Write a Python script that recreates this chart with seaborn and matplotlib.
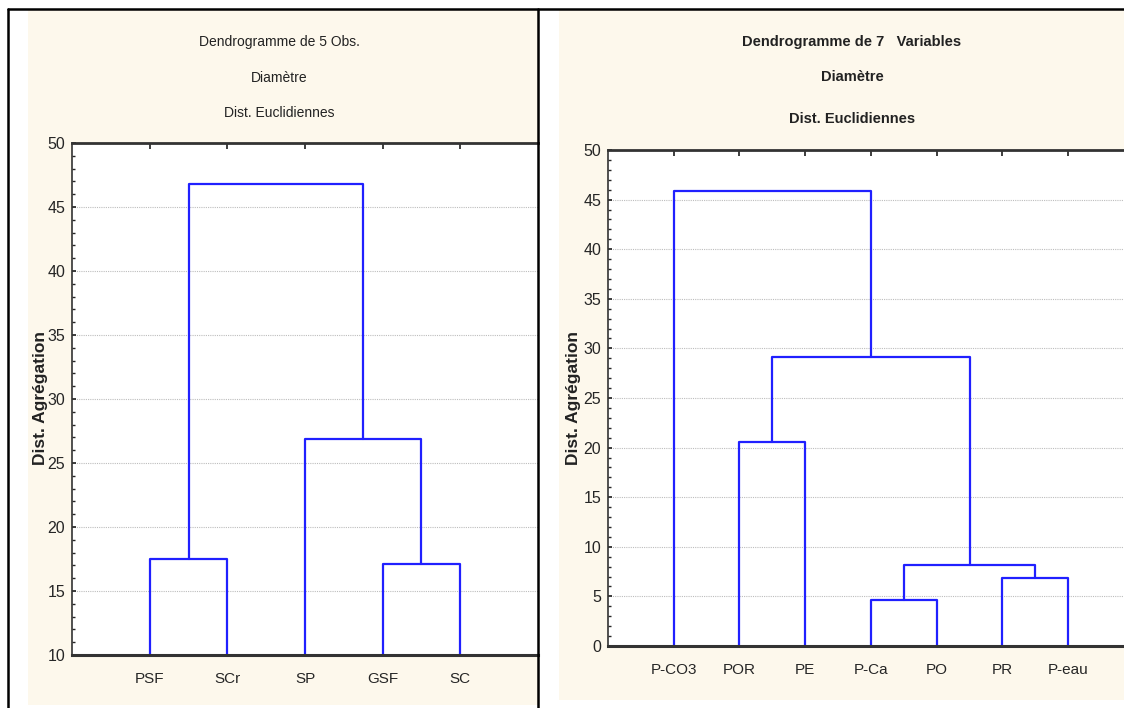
import seaborn as sns
import pandas as pd
import matplotlib.pyplot as plt
from matplotlib.patches import Rectangle
from matplotlib.lines import Line2D
from matplotlib.ticker import MultipleLocator

# données des deux dendrogrammes
obs_labels = ['PSF', 'SCr', 'SP', 'GSF', 'SC']
# (gauche, droite, hauteur) - indices >= n désignent les groupes déjà formés
obs_merges = [(3, 4, 17.1), (0, 1, 17.5), (2, 5, 26.9), (6, 7, 46.8)]

var_labels = ['P-CO3', 'POR', 'PE', 'P-Ca', 'PO', 'PR', 'P-eau']
var_merges = [(3, 4, 4.6), (5, 6, 6.9), (7, 8, 8.2), (1, 2, 20.6),
              (10, 9, 29.1), (0, 11, 45.9)]

sns.set_theme(style='white')
plt.rcParams['font.family'] = ['Liberation Sans Narrow', 'Liberation Sans', 'DejaVu Sans']

CREAM = '#fdf8ec'
BLUE = '#2020ff'


def segments(labels, merges, base):
    # position x de chaque feuille puis de chaque groupe
    pos = {i: i + 1 for i in range(len(labels))}
    hgt = {i: base for i in range(len(labels))}
    rows = []
    n = len(labels)
    for k, (a, b, h) in enumerate(merges):
        xa, xb = pos[a], pos[b]
        pts = [(xa, hgt[a]), (xa, h), (xb, h), (xb, hgt[b])]
        for x, y in pts:
            rows.append({'x': x, 'y': y, 'seg': k})
        pos[n + k] = (xa + xb) / 2
        hgt[n + k] = h
    return pd.DataFrame(rows)


fig = plt.figure(figsize=(11.24, 7.08), dpi=100)
W, H = 1124, 708

# fonds crème des deux panneaux
fig.patches.append(Rectangle((28 / W, 3 / H), 510 / W, 696 / H, transform=fig.transFigure,
                             facecolor=CREAM, edgecolor='none', zorder=-10))
fig.patches.append(Rectangle((559 / W, 8 / H), 565 / W, 691 / H, transform=fig.transFigure,
                             facecolor=CREAM, edgecolor='none', zorder=-10))


def draw(ax, labels, merges, ylim, xmax, titles, title_x, title_ys, ylab_x, bold_title):
    df = segments(labels, merges, ylim[0])
    sns.lineplot(data=df, x='x', y='y', units='seg', estimator=None, sort=False,
                 color=BLUE, lw=1.6, ax=ax, legend=False)
    ax.set_xlim(0, xmax)
    ax.set_ylim(*ylim)
    ax.set_xticks(range(1, len(labels) + 1))
    ax.set_xticklabels(labels, fontsize=11)
    ax.yaxis.set_major_locator(MultipleLocator(5))
    ax.yaxis.set_minor_locator(MultipleLocator(1))
    ax.tick_params(axis='y', which='major', labelsize=11.5, length=3, direction='in', left=True, pad=5)
    ax.tick_params(axis='y', which='minor', length=2, direction='in', left=True)
    ax.tick_params(axis='x', length=4, direction='in', bottom=True, top=True, pad=12)
    ax.grid(axis='y', which='major', color='#bdbdbd', linestyle=(0, (1, 1)), lw=0.8)
    for s in ['left', 'top', 'bottom']:
        ax.spines[s].set_color('#333333')
    ax.spines['left'].set_linewidth(1.2)
    ax.spines['top'].set_linewidth(2)
    ax.spines['bottom'].set_linewidth(2.2)
    ax.spines['right'].set_visible(False)
    ax.set_xlabel('')
    ax.set_ylabel('')
    ax.set_facecolor('white')
    fig.text(ylab_x / W, 1 - 398 / H, 'Dist. Agrégation', rotation=90, ha='center', va='center',
             fontsize=12.5, fontweight='bold', family=['Liberation Sans', 'DejaVu Sans'],
             color='#222222')
    for t, y in zip(titles, title_ys):
        fig.text(title_x / W, 1 - y / H, t, ha='center', va='center', fontsize=10.5 if bold_title else 10,
                 color='#222222', fontweight='bold' if bold_title else 'normal')


ax1 = fig.add_axes([72 / W, 1 - 655 / H, 466 / W, 512 / H])
draw(ax1, obs_labels, obs_merges, (10, 50), 6.0,
     ['Dendrogramme de 5 Obs.', 'Diamètre', 'Dist. Euclidiennes'], 279, [42, 78, 113], 41, False)

ax2 = fig.add_axes([608 / W, 1 - 646 / H, 516 / W, 496 / H])
draw(ax2, var_labels, var_merges, (0, 50), 7.85,
     ['Dendrogramme de 7   Variables', 'Diamètre', 'Dist. Euclidiennes'], 852, [42, 77, 119], 573, True)

# cadres noirs du tableau
for coords in [([8 / W, 1], [1 - 9 / H, 1 - 9 / H]), ([8 / W, 8 / W], [0, 1 - 9 / H]),
               ([538 / W, 538 / W], [0, 1 - 9 / H])]:
    fig.add_artist(Line2D(coords[0], coords[1], color='black', lw=1.8, transform=fig.transFigure))

fig.savefig('out.png', dpi=100)
